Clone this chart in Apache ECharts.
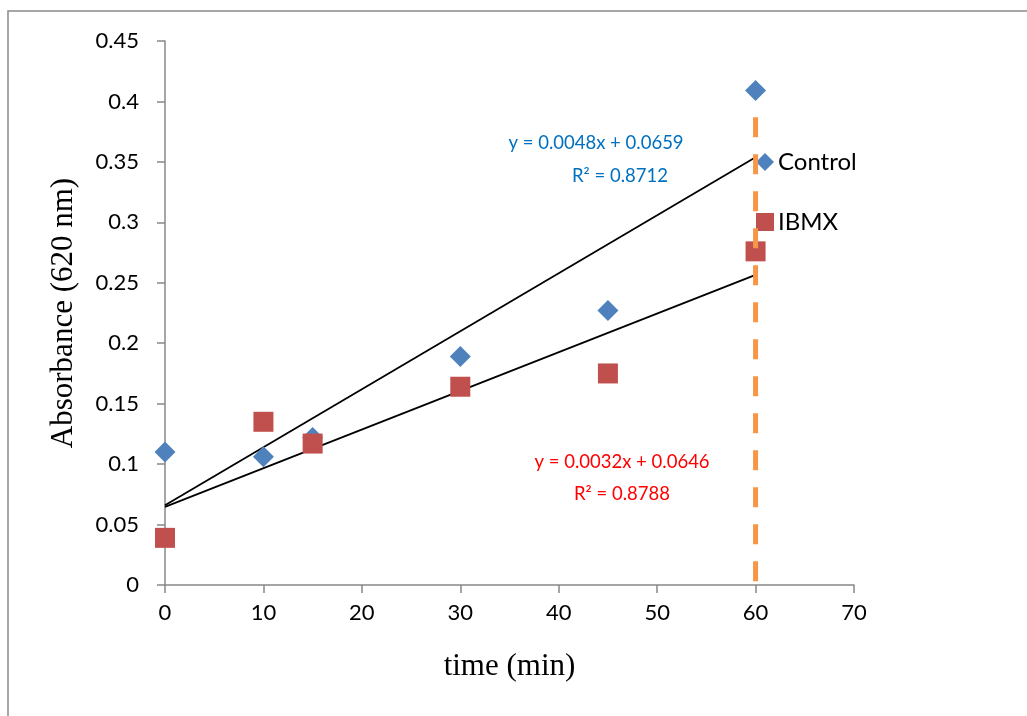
<!DOCTYPE html>
<html><head><meta charset="utf-8">
<script src="https://cdn.jsdelivr.net/npm/echarts@6/dist/echarts.min.js"></script>
<style>html,body{margin:0;padding:0;background:#fff}#c{width:1027px;height:716px}</style>
</head><body><div id="c"></div>
<script>
const times = [0, 10, 15, 30, 45, 60];
const controlVals = [0.110, 0.106, 0.122, 0.189, 0.227, 0.409];
const ibmxVals = [0.039, 0.135, 0.117, 0.164, 0.175, 0.276];
const controlTrend = [[0, 0.0659], [60, 0.3539]];
const ibmxTrend = [[0, 0.0646], [60, 0.2566]];
const divider = [[60, 0.387], [60, 0]];
const xTicks = [0, 10, 20, 30, 40, 50, 60, 70];
const yTicks = [0, 0.05, 0.1, 0.15, 0.2, 0.25, 0.3, 0.35, 0.4, 0.45];
const controlEq = ['y = 0.0048x + 0.0659', 'R² = 0.8712'];
const ibmxEq = ['y = 0.0032x + 0.0646', 'R² = 0.8788'];

const chart = echarts.init(document.getElementById('c'), null, {renderer: 'canvas'});
const sans = 'Lato, "Noto Sans", sans-serif';
const serif = '"Liberation Serif", "Times New Roman", serif';
const tickFont = {fontFamily: sans, fontSize: 22, color: '#000'};
const axisGray = '#888888';
const eqFont = '18.5px ' + sans;
const opt = {
  animation: false,
  backgroundColor: '#fff',
  grid: {left: 165, right: 173, top: 41, bottom: 131, containLabel: false},
  xAxis: {
    type: 'value', min: xTicks[0], max: xTicks[xTicks.length - 1], interval: 10,
    name: 'time (min)', nameLocation: 'middle', nameGap: 66,
    nameTextStyle: {fontFamily: serif, fontSize: 31, color: '#000'},
    axisLine: {onZero: false, lineStyle: {color: axisGray, width: 1.5}},
    axisTick: {show: true, length: 8, lineStyle: {color: axisGray, width: 1.5}},
    axisLabel: Object.assign({margin: 17}, tickFont),
    splitLine: {show: false}
  },
  yAxis: {
    type: 'value', min: yTicks[0], max: yTicks[yTicks.length - 1], interval: 0.05,
    name: 'Absorbance (620 nm)', nameLocation: 'middle', nameGap: 86,
    nameTextStyle: {fontFamily: serif, fontSize: 31, color: '#000'},
    axisLine: {show: true, onZero: false, lineStyle: {color: axisGray, width: 1.5}},
    axisTick: {show: true, length: 8, lineStyle: {color: axisGray, width: 1.5}},
    axisLabel: Object.assign({margin: 26, formatter: v => String(+v.toFixed(2))}, tickFont),
    splitLine: {show: false}
  },
  legend: {
    orient: 'vertical', left: 751, top: 145, padding: 5, itemWidth: 18, itemHeight: 18, itemGap: 36,
    textStyle: {fontFamily: sans, fontSize: 24, color: '#000', padding: [0, 0, 0, -1]},
    data: [{name: 'Control', icon: 'diamond'}, {name: 'IBMX', icon: 'rect'}]
  },
  series: [
    {name: 'Control trend', type: 'line', data: controlTrend, symbol: 'none',
     lineStyle: {color: '#000', width: 1.8}, z: 2, silent: true},
    {name: 'IBMX trend', type: 'line', data: ibmxTrend, symbol: 'none',
     lineStyle: {color: '#000', width: 1.8}, z: 2, silent: true},
    {name: 'Control', type: 'scatter', symbol: 'diamond', symbolSize: 21,
     itemStyle: {color: '#4F81BD', opacity: 1}, data: times.map((t, i) => [t, controlVals[i]]), z: 3},
    {name: 'IBMX', type: 'scatter', symbol: 'rect', symbolSize: 20,
     itemStyle: {color: '#C0504D', opacity: 1}, data: times.map((t, i) => [t, ibmxVals[i]]), z: 3},
    {name: 'divider', type: 'line', data: divider, symbol: 'none', z: 10,
     lineStyle: {color: '#F79646', width: 5, type: [20, 17]}, silent: true}
  ],
  graphic: [
    {type: 'rect', shape: {x: 8, y: 11, width: 1100, height: 800}, z: 100,
     style: {fill: 'none', stroke: '#8a8a8a', lineWidth: 1.5}, silent: true},
    {type: 'text', x: 596, y: 143, z: 50,
     style: {text: controlEq[0], font: eqFont, fill: '#0070C0', textAlign: 'center', textVerticalAlign: 'middle'}},
    {type: 'text', x: 620, y: 176, z: 50,
     style: {text: controlEq[1], font: eqFont, fill: '#0070C0', textAlign: 'center', textVerticalAlign: 'middle'}},
    {type: 'text', x: 622, y: 462, z: 50,
     style: {text: ibmxEq[0], font: eqFont, fill: '#FF0000', textAlign: 'center', textVerticalAlign: 'middle'}},
    {type: 'text', x: 622, y: 494, z: 50,
     style: {text: ibmxEq[1], font: eqFont, fill: '#FF0000', textAlign: 'center', textVerticalAlign: 'middle'}}
  ]
};
chart.setOption(opt);
</script></body></html>
